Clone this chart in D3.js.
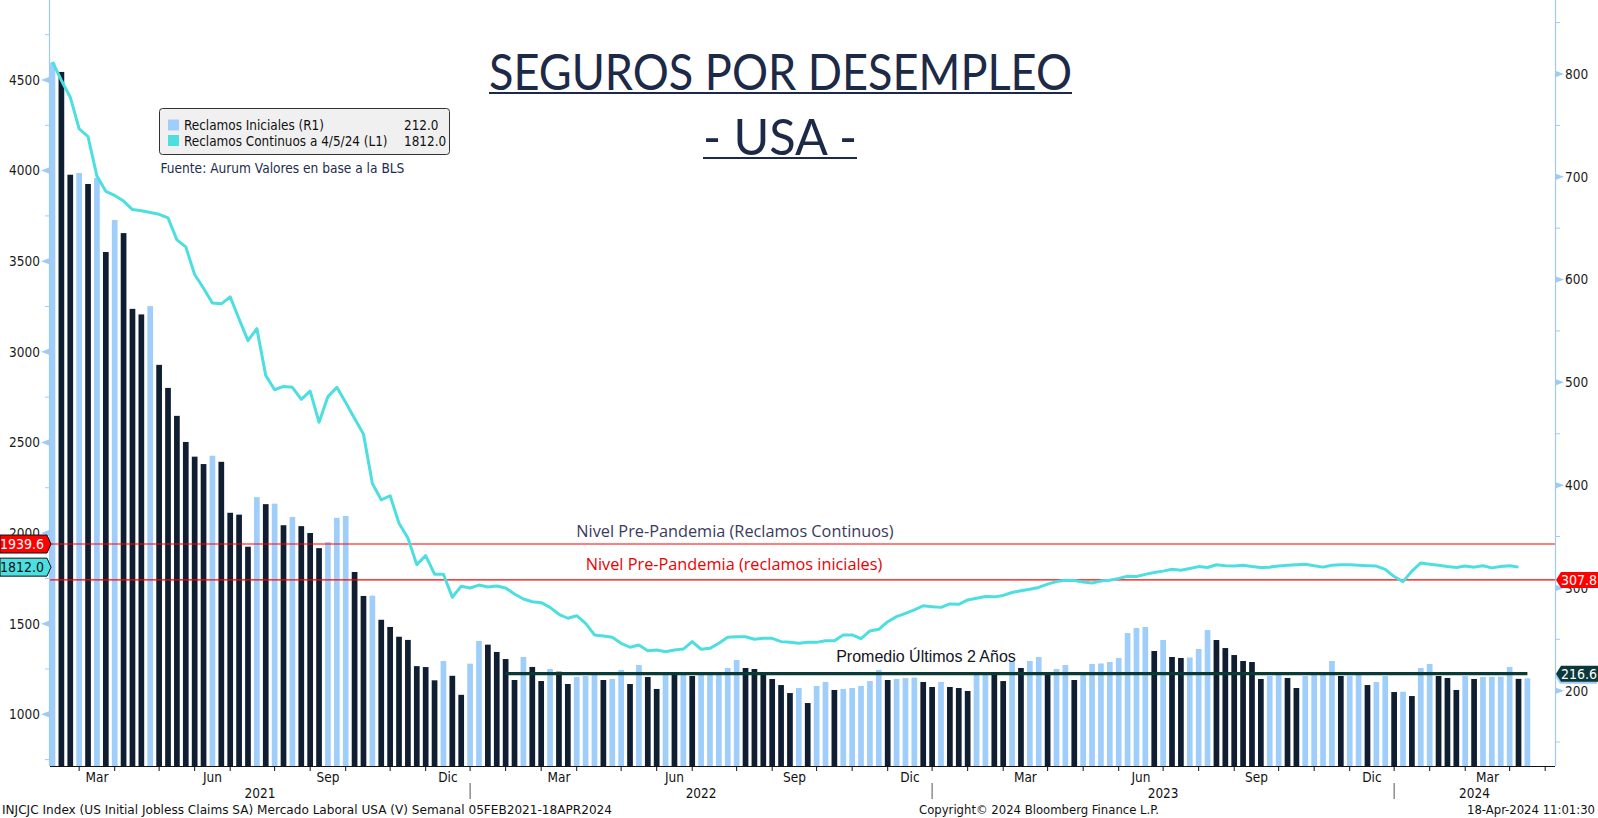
<!DOCTYPE html>
<html>
<head>
<meta charset="utf-8">
<script src="https://cdn.jsdelivr.net/npm/d3@7/dist/d3.min.js"></script>
<style>
  body { margin: 0; background: #fff; }
  svg { display: block; }
  .tah { font-family: "DejaVu Sans Condensed", "DejaVu Sans", sans-serif; font-stretch: condensed; }
</style>
</head>
<body>
<script>
// Canvas size
var width = 1598;
var height = 818;

// Plot frame (pixels)
var plotLeft = 50, plotRight = 1555, plotBottom = 766;

// Weekly data, first week (Friday) of the series
var startDate = new Date(Date.UTC(2021, 1, 5));

// Initial claims, thousands (right axis, bars)
var initialClaims = [
  811, 802, 702, 703.7, 693, 698.8, 626.8, 658, 645.2, 571.5,
  566.1, 574.2, 517, 494.6, 467.4, 442, 427.7, 420.5, 428.6, 422.7,
  373.1, 371.3, 340.1, 388.3, 381.5, 382, 361, 369, 360.1, 353.4,
  338.7, 344.6, 368.2, 370, 315.5, 292.2, 292.5, 269, 262, 252.5,
  249.4, 223.9, 223, 210.1, 228.9, 214.5, 196, 226.3, 248.4, 244.8,
  237.7, 230.8, 210.4, 232.8, 223.1, 209.4, 221.1, 218.5, 206.5, 213.3,
  214.3, 216.5, 210.4, 211.4, 220.1, 206.5, 225, 213.3, 201.7, 217.5,
  216, 216.5, 214.3, 216, 217, 218, 222.1, 229.9, 222.1, 221.1,
  216.2, 211.4, 205.5, 197.7, 202.6, 188, 204.6, 208.5, 200.7, 201.7,
  202.6, 204.6, 209.4, 220.1, 210.4, 211.4, 212.3, 212.8, 208.5, 203.6,
  208.5, 203.6, 202.6, 199.7, 216.5, 217, 216, 209.4, 228.2, 222.1,
  228.9, 232.8, 216.2, 221.1, 225, 210.4, 216.5, 226, 226.5, 227.9,
  231.8, 256.1, 261, 262, 238.6, 249.3, 232.8, 231.8, 232.3, 240.6,
  259, 249.3, 241.5, 234.7, 228.9, 227.9, 211.4, 214.3, 216, 212.4,
  202.6, 214.3, 216, 216.5, 228.9, 214.3, 214.5, 216, 205.5, 208.5,
  214.3, 198.7, 199, 194.8, 222.1, 226, 214.3, 212.4, 200.7, 214.3,
  211.4, 213.3, 213.5, 213.7, 223.1, 211.5, 212
];

// Continuing claims, thousands (left axis, line), one week behind
var continuingClaims = [
  4600, 4498, 4405, 4231, 4187, 3970, 3886, 3863, 3832, 3785,
  3779, 3769, 3759, 3739, 3618, 3579, 3427, 3351, 3270, 3265,
  3303, 3181, 3062, 3128, 2870, 2791, 2809, 2804, 2738, 2783,
  2611, 2753, 2804, 2720, 2632, 2546, 2274, 2183, 2206, 2054,
  1973, 1826, 1876, 1773, 1773, 1646, 1707, 1697, 1713, 1702,
  1708, 1697, 1664, 1636, 1621, 1616, 1590, 1552, 1530, 1544,
  1502, 1438, 1432, 1425, 1392, 1370, 1382, 1351, 1355, 1345,
  1355, 1360, 1401, 1359, 1364, 1392, 1425, 1428, 1428, 1414,
  1419, 1419, 1401, 1397, 1392, 1397, 1397, 1406, 1406, 1438,
  1438, 1417, 1460, 1469, 1511, 1539, 1557, 1576, 1599, 1594,
  1590, 1609, 1607, 1631, 1640, 1650, 1648, 1656, 1672, 1682,
  1690, 1700, 1718, 1732, 1740, 1738, 1730, 1725, 1735, 1740,
  1750, 1762, 1760, 1772, 1782, 1790, 1800, 1795, 1805, 1815,
  1810, 1825, 1820, 1818, 1822, 1815, 1810, 1812, 1818, 1822,
  1825, 1828, 1820, 1812, 1822, 1825, 1825, 1822, 1820, 1818,
  1800, 1760, 1732, 1790, 1835, 1828, 1822, 1815, 1810, 1818,
  1812, 1820, 1808, 1815, 1820, 1812
];

// Reference levels
var preCovidContinuing = 1939.6;
var preCovidInitial = 307.8;
var avgTwoYears = 216.6;
var avgStartWeek = 51;

// Axis ticks
var leftTicks = [1000, 1500, 2000, 2500, 3000, 3500, 4000, 4500];
var leftMinor = [750, 1250, 1750, 2250, 2750, 3250, 3750, 4250, 4750];
var rightTicks = [200, 300, 400, 500, 600, 700, 800];
var rightMinor = [150, 250, 350, 450, 550, 650, 750, 850];
var monthNames = ["Ene", "Feb", "Mar", "Abr", "May", "Jun", "Jul", "Ago", "Sep", "Oct", "Nov", "Dic"];
var labeledMonths = [2, 5, 8, 11];

// Colours
var lightBar = "#9fcefb";
var darkBar = "#0f1e30";
var lineColor = "#4ddfe0";
var axisColor = "#9ecbf6";

var dates = initialClaims.map(function (d, i) { return d3.utcWeek.offset(startDate, i); });

var svg = d3.select("body")
    .append("svg")
    .attr("width", width)
    .attr("height", height);

svg.append("rect").attr("width", width).attr("height", height).attr("fill", "#fff");

// Scales
var x = d3.scaleUtc()
    .domain([dates[0], dates[dates.length - 1]])
    .range([52.5, 52.5 + 8.885 * (dates.length - 1)]);
var yLeft = d3.scaleLinear().domain([1000, 4500]).range([714.3, 80]);
var yRight = d3.scaleLinear().domain([200, 800]).range([690.7, 74]);

var barWidth = 5.7;

// Bars: light when the week rose, dark when it fell
svg.append("g").selectAll("rect")
    .data(initialClaims)
    .enter()
    .append("rect")
    .attr("x", function (d, i) { return x(dates[i]) - barWidth / 2; })
    .attr("y", function (d) { return yRight(d); })
    .attr("width", barWidth)
    .attr("height", function (d) { return plotBottom - yRight(d); })
    .attr("fill", function (d, i) { return (i === 0 || d > initialClaims[i - 1]) ? lightBar : darkBar; });

// Pre-pandemic levels
svg.append("line")
    .attr("x1", plotLeft).attr("x2", plotRight)
    .attr("y1", yLeft(preCovidContinuing)).attr("y2", yLeft(preCovidContinuing))
    .attr("stroke", "#ff0000").attr("stroke-width", 1.2);
svg.append("line")
    .attr("x1", plotLeft).attr("x2", plotRight)
    .attr("y1", yRight(preCovidInitial)).attr("y2", yRight(preCovidInitial))
    .attr("stroke", "#ff0000").attr("stroke-width", 1.2);

// Two-year average
svg.append("line")
    .attr("x1", x(dates[avgStartWeek])).attr("x2", x(dates[dates.length - 1]))
    .attr("y1", yRight(avgTwoYears)).attr("y2", yRight(avgTwoYears))
    .attr("stroke", "#0b3a36").attr("stroke-width", 3.3);

// Continuing claims line
var line = d3.line()
    .x(function (d, i) { return x(dates[i]); })
    .y(function (d) { return yLeft(d); });
svg.append("path")
    .datum(continuingClaims)
    .attr("d", line)
    .attr("fill", "none")
    .attr("stroke", lineColor)
    .attr("stroke-width", 3)
    .attr("stroke-linejoin", "round");

// Annotations
svg.append("text")
    .attr("x", 735).attr("y", 536.5)
    .attr("text-anchor", "middle")
    .style("font-family", "'Open Sans', 'Noto Sans', sans-serif")
    .style("font-size", "16.3px")
    .attr("fill", "#3b3a5c")
    .text("Nivel Pre-Pandemia (Reclamos Continuos)");
svg.append("text")
    .attr("x", 734).attr("y", 570)
    .attr("text-anchor", "middle")
    .style("font-family", "'Open Sans', 'Noto Sans', sans-serif")
    .style("font-size", "16.3px")
    .attr("fill", "#ee0000")
    .text("Nivel Pre-Pandemia (reclamos iniciales)");
svg.append("text")
    .attr("x", 926).attr("y", 661.5)
    .attr("text-anchor", "middle")
    .style("font-family", "'Liberation Sans', Arial, sans-serif")
    .style("font-size", "16px")
    .attr("fill", "#14141e")
    .text("Promedio Últimos 2 Años");

// Left axis
svg.append("line")
    .attr("x1", plotLeft - 0.5).attr("x2", plotLeft - 0.5)
    .attr("y1", 0).attr("y2", plotBottom)
    .attr("stroke", axisColor).attr("stroke-width", 1.2);
var leftAxis = svg.append("g")
    .attr("class", "tah")
    .attr("transform", "translate(" + plotLeft + ",0)")
    .call(d3.axisLeft(yLeft).tickValues(leftTicks).tickSize(0).tickPadding(10).tickFormat(d3.format("d")));
leftAxis.select(".domain").remove();
leftAxis.selectAll("text").style("font-size", "13.5px").attr("fill", "#1a1a1a");
svg.append("g").selectAll("path")
    .data(leftTicks)
    .enter()
    .append("path")
    .attr("d", function (d) { var y = yLeft(d); return "M" + (plotLeft - 1) + "," + (y - 3) + "L" + (plotLeft - 9) + "," + y + "L" + (plotLeft - 1) + "," + (y + 3) + "Z"; })
    .attr("fill", axisColor);
svg.append("g").selectAll("line")
    .data(leftMinor)
    .enter()
    .append("line")
    .attr("x1", plotLeft - 5).attr("x2", plotLeft)
    .attr("y1", function (d) { return yLeft(d); })
    .attr("y2", function (d) { return yLeft(d); })
    .attr("stroke", axisColor);

// Right axis
svg.append("line")
    .attr("x1", plotRight + 0.5).attr("x2", plotRight + 0.5)
    .attr("y1", 0).attr("y2", plotBottom)
    .attr("stroke", axisColor).attr("stroke-width", 1.2);
var rightAxis = svg.append("g")
    .attr("class", "tah")
    .attr("transform", "translate(" + plotRight + ",0)")
    .call(d3.axisRight(yRight).tickValues(rightTicks).tickSize(0).tickPadding(10).tickFormat(d3.format("d")));
rightAxis.select(".domain").remove();
rightAxis.selectAll("text").style("font-size", "13.5px").attr("fill", "#1a1a1a");
svg.append("g").selectAll("path")
    .data(rightTicks)
    .enter()
    .append("path")
    .attr("d", function (d) { var y = yRight(d); return "M" + (plotRight + 1) + "," + (y - 3) + "L" + (plotRight + 9) + "," + y + "L" + (plotRight + 1) + "," + (y + 3) + "Z"; })
    .attr("fill", axisColor);
svg.append("g").selectAll("line")
    .data(rightMinor)
    .enter()
    .append("line")
    .attr("x1", plotRight).attr("x2", plotRight + 5)
    .attr("y1", function (d) { return yRight(d); })
    .attr("y2", function (d) { return yRight(d); })
    .attr("stroke", axisColor);

// Bottom axis: tick at the last week of each month
function monthTick(m) {
    return x(d3.utcWeek.offset(d3.utcFriday.ceil(m), -1));
}
var months = d3.utcMonth.range(new Date(Date.UTC(2021, 0, 1)), new Date(Date.UTC(2024, 7, 1)));
var ticks = months.map(function (m) { return { m: m, x: monthTick(m) }; });

svg.append("line")
    .attr("x1", plotLeft).attr("x2", plotRight)
    .attr("y1", plotBottom + 0.5).attr("y2", plotBottom + 0.5)
    .attr("stroke", "#111").attr("stroke-width", 1.2);

var inside = ticks.filter(function (t) { return t.x >= plotLeft && t.x <= plotRight; });
svg.append("g").selectAll("line")
    .data(inside)
    .enter()
    .append("line")
    .attr("x1", function (t) { return t.x; }).attr("x2", function (t) { return t.x; })
    .attr("y1", plotBottom).attr("y2", plotBottom + 5)
    .attr("stroke", "#111");

// Month labels between ticks
var monthLabels = [];
ticks.forEach(function (t, i) {
    if (i + 1 < ticks.length && labeledMonths.indexOf(t.m.getUTCMonth()) >= 0) {
        var cx = (t.x + ticks[i + 1].x) / 2;
        if (cx > plotLeft && cx < plotRight) monthLabels.push({ x: cx, text: monthNames[t.m.getUTCMonth()] });
    }
});
svg.append("g").attr("class", "tah").selectAll("text")
    .data(monthLabels)
    .enter()
    .append("text")
    .attr("x", function (d) { return d.x; })
    .attr("y", 781.5)
    .attr("text-anchor", "middle")
    .style("font-size", "13.5px")
    .attr("fill", "#111")
    .text(function (d) { return d.text; });

// Year dividers and labels
var janTicks = inside.filter(function (t) { return t.m.getUTCMonth() === 0; });
svg.append("g").selectAll("line")
    .data(janTicks)
    .enter()
    .append("line")
    .attr("x1", function (t) { return t.x; }).attr("x2", function (t) { return t.x; })
    .attr("y1", 783).attr("y2", 799)
    .attr("stroke", "#555");
var years = [2021, 2022, 2023, 2024];
var yearLabels = years.map(function (yr) {
    var a = ticks.find(function (t) { return t.m.getUTCFullYear() === yr && t.m.getUTCMonth() === 0; });
    var b = ticks.find(function (t) { return t.m.getUTCFullYear() === yr + 1 && t.m.getUTCMonth() === 0; });
    var x0 = Math.max(plotLeft, a ? a.x : plotLeft);
    var x1 = Math.min(plotRight, b ? b.x : plotRight);
    return { x: (x0 + x1) / 2, text: String(yr) };
});
svg.append("g").attr("class", "tah").selectAll("text")
    .data(yearLabels)
    .enter()
    .append("text")
    .attr("x", function (d) { return d.x; })
    .attr("y", 797.5)
    .attr("text-anchor", "middle")
    .style("font-size", "13.5px")
    .attr("fill", "#111")
    .text(function (d) { return d.text; });

// Value tags on the axes
function leftTag(y, label, fill, color) {
    var g = svg.append("g");
    g.append("path")
        .attr("d", "M0," + (y - 9) + "L47," + (y - 9) + "L51," + y + "L47," + (y + 9) + "L0," + (y + 9) + "Z")
        .attr("fill", fill).attr("stroke", "#111").attr("stroke-width", 1);
    g.append("text").attr("class", "tah")
        .attr("x", 22).attr("y", y + 5)
        .attr("text-anchor", "middle")
        .style("font-size", "14px")
        .attr("fill", color)
        .text(label);
}
function rightTag(y, label, fill, color, shadow) {
    var g = svg.append("g");
    var d = "M" + (plotRight + 1) + "," + y + "L" + (plotRight + 6) + "," + (y - 8) + "L" + width + "," + (y - 8) + "L" + width + "," + (y + 8) + "L" + (plotRight + 6) + "," + (y + 8) + "Z";
    if (shadow) g.append("path").attr("d", d).attr("fill", shadow).attr("transform", "translate(-1,2)");
    g.append("path").attr("d", d).attr("fill", fill);
    g.append("text").attr("class", "tah")
        .attr("x", 1579).attr("y", y + 5)
        .attr("text-anchor", "middle")
        .style("font-size", "14px")
        .attr("fill", color)
        .text(label);
}
leftTag(yLeft(preCovidContinuing), preCovidContinuing.toFixed(1), "#ff0000", "#fff");
leftTag(yLeft(continuingClaims[continuingClaims.length - 1]), continuingClaims[continuingClaims.length - 1].toFixed(1), lineColor, "#111");
rightTag(yRight(preCovidInitial), preCovidInitial.toFixed(1), "#ff0000", "#fff");
rightTag(yRight(avgTwoYears), avgTwoYears.toFixed(1), "#0b3838", "#fff", "#9ecbf6");

// Legend
var legend = svg.append("g").attr("class", "tah");
legend.append("rect")
    .attr("x", 159.5).attr("y", 108.5).attr("width", 290).attr("height", 46)
    .attr("rx", 3)
    .attr("fill", "#f0f0f0").attr("stroke", "#333");
var legendRows = [
    { color: lightBar, name: "Reclamos Iniciales (R1)", value: initialClaims[initialClaims.length - 1].toFixed(1) },
    { color: lineColor, name: "Reclamos Continuos a 4/5/24 (L1)", value: continuingClaims[continuingClaims.length - 1].toFixed(1) }
];
legendRows.forEach(function (r, i) {
    var cy = 125 + i * 15.5;
    legend.append("rect").attr("x", 168).attr("y", cy - 5.5).attr("width", 11).attr("height", 11).attr("fill", r.color);
    legend.append("text").attr("x", 184).attr("y", cy + 5).style("font-size", "13.4px").attr("fill", "#111").text(r.name);
    legend.append("text").attr("x", 404).attr("y", cy + 5).style("font-size", "13.4px").attr("fill", "#111").text(r.value);
});
legend.append("text")
    .attr("x", 160.5).attr("y", 172.5)
    .style("font-size", "13.6px")
    .attr("fill", "#1d2b4c")
    .text("Fuente: Aurum Valores en base a la BLS");

// Title
var titleFont = "Lato, 'Open Sans', sans-serif";
svg.append("text")
    .attr("x", 780.5).attr("y", 89.5)
    .attr("text-anchor", "middle")
    .attr("textLength", 583).attr("lengthAdjust", "spacingAndGlyphs")
    .style("font-family", titleFont).style("font-size", "50px")
    .attr("fill", "#1c2a48")
    .text("SEGUROS POR DESEMPLEO");
svg.append("line").attr("x1", 489).attr("x2", 1072).attr("y1", 93).attr("y2", 93)
    .attr("stroke", "#1c2a48").attr("stroke-width", 2);
svg.append("text")
    .attr("x", 780).attr("y", 154.5)
    .attr("text-anchor", "middle")
    .attr("textLength", 154).attr("lengthAdjust", "spacingAndGlyphs")
    .style("font-family", titleFont).style("font-size", "50px")
    .attr("fill", "#1c2a48")
    .text("- USA -");
svg.append("line").attr("x1", 703).attr("x2", 857).attr("y1", 158).attr("y2", 158)
    .attr("stroke", "#1c2a48").attr("stroke-width", 2);

// Footer
var footer = svg.append("g").attr("class", "tah").style("font-size", "12px").attr("fill", "#111");
footer.append("text").attr("x", 2).attr("y", 813.5)
    .attr("textLength", 610).attr("lengthAdjust", "spacingAndGlyphs")
    .text("INJCJC Index (US Initial Jobless Claims SA) Mercado Laboral USA (V)  Semanal 05FEB2021-18APR2024");
footer.append("text").attr("x", 919).attr("y", 813.5)
    .attr("textLength", 240).attr("lengthAdjust", "spacingAndGlyphs")
    .text("Copyright\u00a9 2024 Bloomberg Finance L.P.");
footer.append("text").attr("x", 1467).attr("y", 813.5)
    .attr("textLength", 128).attr("lengthAdjust", "spacingAndGlyphs")
    .text("18-Apr-2024 11:01:30");
</script>
</body>
</html>
